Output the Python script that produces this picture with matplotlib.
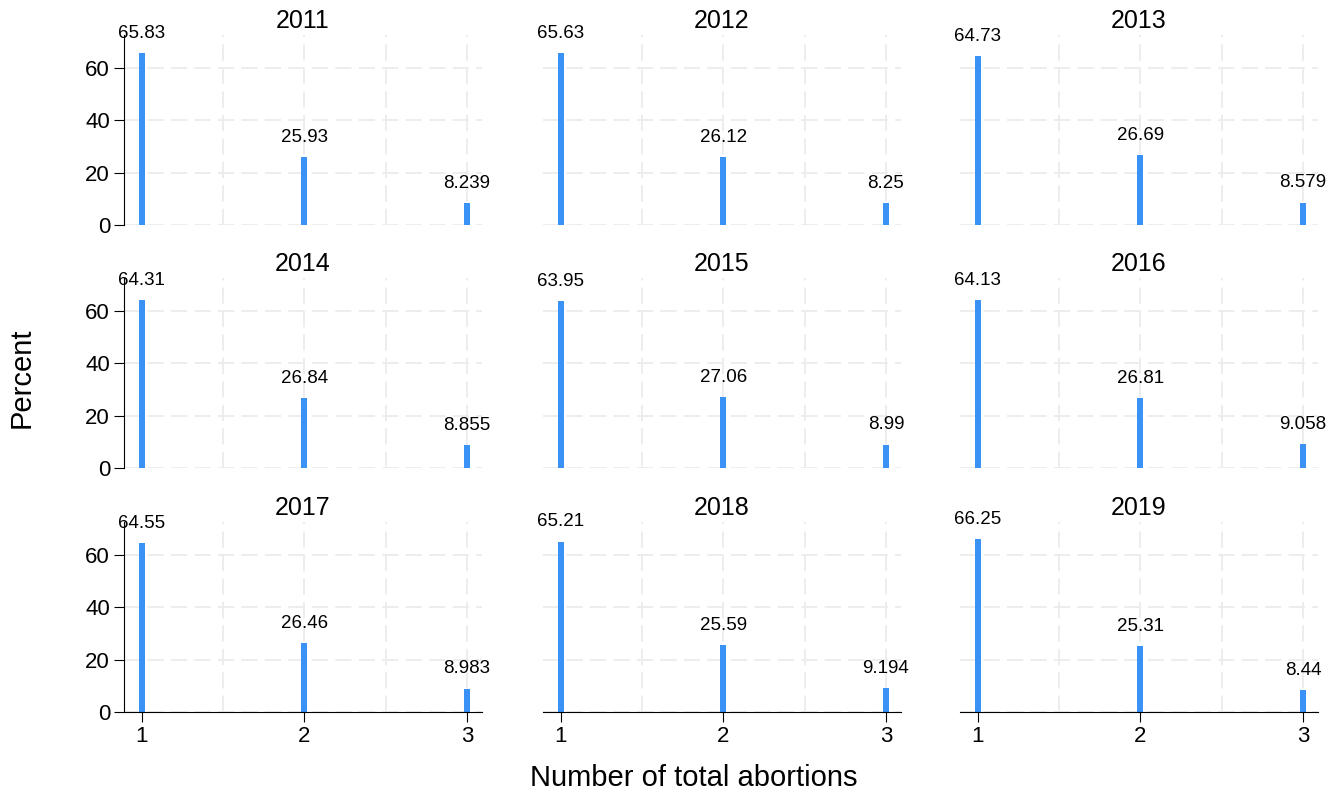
import numpy as np
import matplotlib
matplotlib.use("Agg")
import matplotlib.pyplot as plt

plt.rcParams['font.family'] = ['Liberation Sans', 'DejaVu Sans']

years = [2011, 2012, 2013, 2014, 2015, 2016, 2017, 2018, 2019]
abortions = [1, 2, 3]
pct_1 = [65.83, 65.63, 64.73, 64.31, 63.95, 64.13, 64.55, 65.21, 66.25]
pct_2 = [25.93, 26.12, 26.69, 26.84, 27.06, 26.81, 26.46, 25.59, 25.31]
pct_3 = [8.239, 8.25, 8.579, 8.855, 8.99, 9.058, 8.983, 9.194, 8.44]
labels_1 = ["65.83", "65.63", "64.73", "64.31", "63.95", "64.13", "64.55", "65.21", "66.25"]
labels_2 = ["25.93", "26.12", "26.69", "26.84", "27.06", "26.81", "26.46", "25.59", "25.31"]
labels_3 = ["8.239", "8.25", "8.579", "8.855", "8.99", "9.058", "8.983", "9.194", "8.44"]

bar_color = '#3a92f7'
grid_color = '#ececec'

fig = plt.figure(figsize=(13.38, 7.94), dpi=100)

W, H = 1338, 794
col_left = [124, 543, 960]
row_bottom = [225, 468, 712]
ax_w, ax_h = 358, 190

for i, yr in enumerate(years):
    r, c = divmod(i, 3)
    ax = fig.add_axes([col_left[c] / W, 1 - row_bottom[r] / H, ax_w / W, ax_h / H])
    vals = [pct_1[i], pct_2[i], pct_3[i]]
    labs = [labels_1[i], labels_2[i], labels_3[i]]

    # dashed grid behind the bars
    for gy in [0, 20, 40, 60]:
        ax.axhline(gy, color=grid_color, lw=1.3, dashes=(9, 4), zorder=0)
    for gx in [1.5, 2, 2.5, 3]:
        ax.axvline(gx, color=grid_color, lw=1.3, dashes=(9, 4), zorder=0)

    ax.bar(abortions, vals, width=0.036, color=bar_color, zorder=2)
    for x, v, t in zip(abortions, vals, labs):
        ax.annotate(t, (x, v), xytext=(0, 8), textcoords='offset points',
                    ha='center', va='bottom', fontsize=13.5)

    ax.set_xlim(0.89, 3.093)
    ax.set_ylim(0, 72.7)
    ax.set_title(str(yr), fontsize=18, pad=5)

    for s in ['top', 'right']:
        ax.spines[s].set_visible(False)
    ax.spines['left'].set_visible(c == 0)
    ax.spines['bottom'].set_visible(r == 2)

    if c == 0:
        ax.set_yticks([0, 20, 40, 60])
        ax.tick_params(axis='y', labelsize=16, length=7, pad=3)
    else:
        ax.set_yticks([])
    if r == 2:
        ax.set_xticks(abortions)
        ax.tick_params(axis='x', labelsize=16, length=7, pad=3)
    else:
        ax.set_xticks([])

fig.text(694 / W, 1 - 778 / H, "Number of total abortions", ha='center', va='center', fontsize=21)
fig.text(22 / W, 1 - 378 / H, "Percent", ha='center', va='center', rotation=90, fontsize=21)

fig.savefig("out.png", dpi=100)
